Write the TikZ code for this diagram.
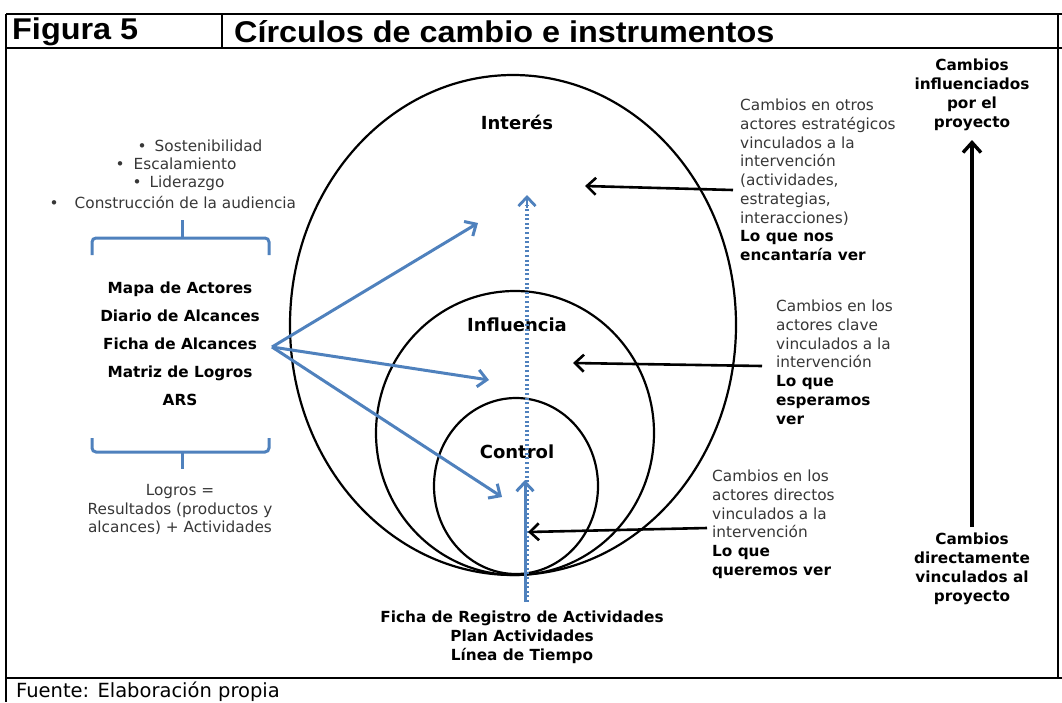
\documentclass[tikz,border=0pt]{standalone}
\usepackage{fontspec}
\setmainfont{DejaVu Sans}
\newfontfamily\headfont[FakeStretch=1.08]{Liberation Sans}
\usetikzlibrary{arrows.meta,positioning}
\definecolor{ofblue}{RGB}{79,129,189}
\definecolor{txtgray}{RGB}{55,55,55}
\newcommand\goal[1]{\textcolor{black}{\bfseries #1}}
\tikzset{
  ring/.style={line width=2.2pt},
  desc/.style={anchor=north west, align=left, inner sep=0pt, text=txtgray,
    font=\fontsize{15.3}{18.7}\selectfont},
  side/.style={anchor=north, align=center, inner sep=0pt,
    font=\fontsize{15.3}{18.8}\selectfont\bfseries},
  level/.style={inner sep=0pt, font=\fontsize{18}{20}\selectfont\bfseries},
  bullet/.style={anchor=west, inner sep=0pt, text=txtgray,
    font=\fontsize{15.3}{18}\selectfont},
  brace/.style={draw=ofblue, line width=3pt, rounded corners=4pt},
  blue arrow/.style={draw=ofblue, line width=3pt,
    -{Straight Barb[length=9pt,width=17pt]}},
  black arrow/.style={line width=2.6pt, -{Straight Barb[length=9pt,width=17pt]}}
}
\begin{document}
\begin{tikzpicture}[x=1pt,y=-1pt]
\useasboundingbox (0,0) rectangle (1062,702);
% frame
\draw[line width=1.6pt] (6,14) -- (1062,14);
\draw[line width=1.6pt] (6,48) -- (1062,48);
\draw[line width=1.6pt] (222,14) -- (222,48);
\draw[line width=1.6pt] (6,14) -- (6,702);
\draw[line width=1.6pt] (1058,14) -- (1058,678);
\draw[line width=2.6pt] (6,678) -- (1062,678);
\node[anchor=west, inner sep=0pt, font=\headfont\fontsize{30}{32}\selectfont\bfseries] (fig) at (12,32) {Figura 5};
\node[anchor=west, inner sep=0pt, font=\headfont\fontsize{30}{32}\selectfont\bfseries] (title) at (234,32) {Círculos de cambio e instrumentos};
\node[anchor=west, inner sep=0pt, font=\fontsize{19.5}{22}\selectfont] (fuente) at (16,692) {Fuente: Elaboración propia};

% circles
\draw[ring] (513,325) ellipse [x radius=223pt, y radius=250pt];
\draw[ring] (515,433) ellipse [x radius=139pt, y radius=142pt];
\draw[ring] (516,486) ellipse [x radius=82pt, y radius=88pt];
\node[level] (interes) at (517,122) {Interés};
\node[level] (influencia) at (517,325) {Influencia};
\node[level] (control) at (517,452) {Control};

% left side
\node[bullet] (b1) at (137.5,146) {•\hspace{8pt}Sostenibilidad};
\node[bullet] (b2) at (115.5,164) {•\hspace{9pt}Escalamiento};
\node[bullet] (b3) at (132.5,183) {•\hspace{8pt}Liderazgo};
\node[bullet] (b4) at (49.5,202) {•\hspace{16pt}Construcción de la audiencia};
\draw[brace] (182,220) -- (182,238);
\draw[brace] (92,255) -- (92,238) -- (269,238) -- (269,255);
\node[anchor=north, align=center, inner sep=0pt,
  font=\fontsize{15.3}{28}\selectfont\bfseries] (tools) at (180,282)
  {Mapa de Actores\\Diario de Alcances\\Ficha de Alcances\\Matriz de Logros\\ARS};
\draw[brace] (92,438) -- (92,452) -- (269,452) -- (269,438);
\draw[brace] (182,452) -- (182,469);
\node[anchor=north, align=center, inner sep=0pt, text=txtgray,
  font=\fontsize{15.3}{18.7}\selectfont] (logros) at (180,484)
  {Logros =\\Resultados (productos y\\alcances) + Actividades};

% blue arrows
\coordinate (ficha) at (272,347);
\coordinate (tInteres) at (478,223);
\coordinate (tInfluencia) at (489,380);
\coordinate (tControl) at (502,497);
\draw[blue arrow] (ficha) -- (tInteres);
\draw[blue arrow] (ficha) -- (tInfluencia);
\draw[blue arrow] (ficha) -- (tControl);
\coordinate (base) at (525,602);
\coordinate (cTop) at (525,480);
\coordinate (iTop) at (527,195);
\draw[blue arrow] (base) -- (cTop);
\draw[draw=ofblue, line width=3.2pt, dash pattern=on 2pt off 2.6pt] (527,602) -- (527,205);
\draw[draw=ofblue, line width=2.8pt, -{Straight Barb[length=9pt,width=17pt]}] (527,208) -- (iTop);
\node[side, text=black] (registro) at (522,611)
  {Ficha de Registro de Actividades\\Plan Actividades\\Línea de Tiempo};

% right side texts
\node[desc] (otros) at (740,99)
  {Cambios en otros\\actores estratégicos\\vinculados a la\\intervención\\(actividades,\\estrategias,\\interacciones)\\\goal{Lo que nos}\\\goal{encantaría ver}};
\node[desc] (clave) at (776,300)
  {Cambios en los\\actores clave\\vinculados a la\\intervención\\\goal{Lo que}\\\goal{esperamos}\\\goal{ver}};
\node[desc] (directos) at (712,470)
  {Cambios en los\\actores directos\\vinculados a la\\intervención\\\goal{Lo que}\\\goal{queremos ver}};
\coordinate (oFrom) at (733,190);
\coordinate (oTo) at (585,186);
\coordinate (kFrom) at (762,366);
\coordinate (kTo) at (573,363);
\coordinate (dFrom) at (707,528);
\coordinate (dTo) at (528,532);
\draw[black arrow] (oFrom) -- (oTo);
\draw[black arrow] (kFrom) -- (kTo);
\draw[black arrow] (dFrom) -- (dTo);

\node[side] (influenciados) at (972,59)
  {Cambios\\influenciados\\por el\\proyecto};
\node[side] (vinculados) at (972,533)
  {Cambios\\directamente\\vinculados al\\proyecto};
\coordinate (vFrom) at (972,527);
\coordinate (vTo) at (972,140);
\draw[line width=3.4pt, -{Straight Barb[length=10pt,width=18pt]}] (vFrom) -- (vTo);
\end{tikzpicture}
\end{document}
